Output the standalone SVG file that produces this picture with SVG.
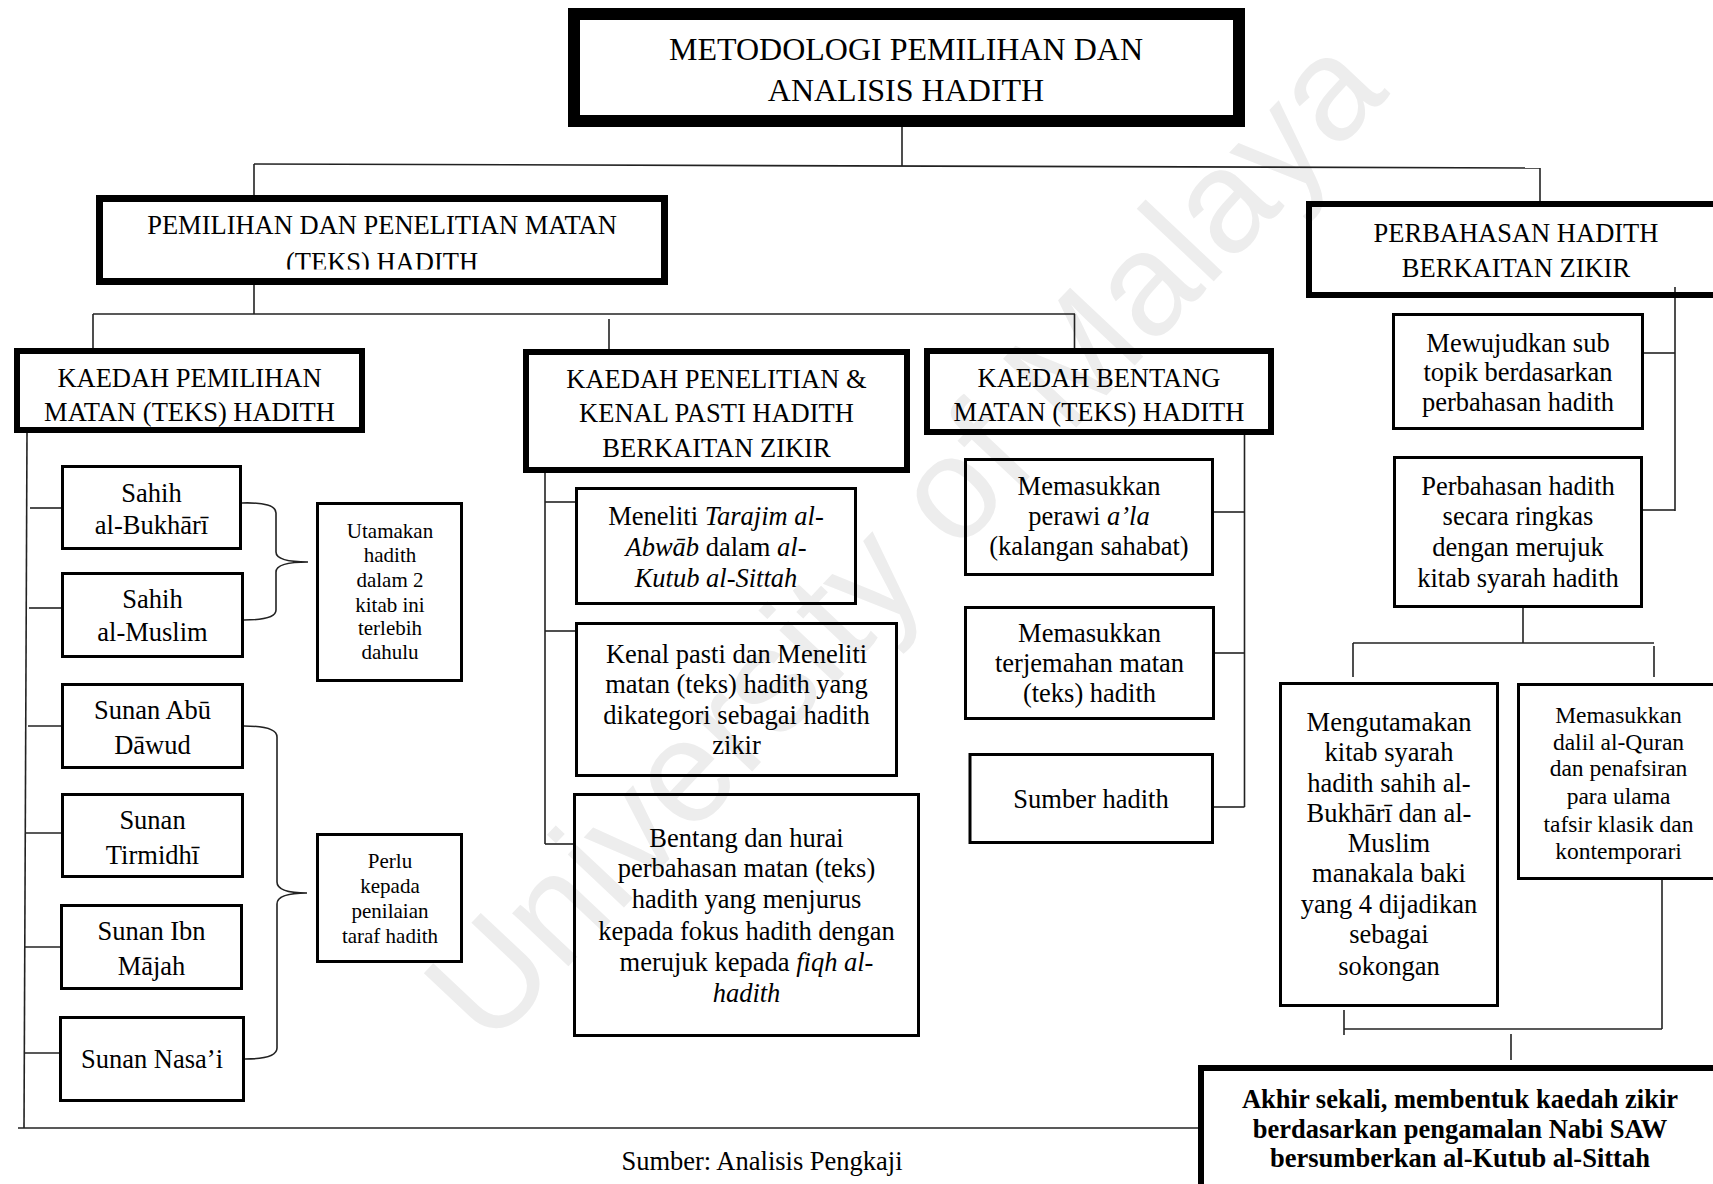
<svg xmlns="http://www.w3.org/2000/svg" width="1713" height="1184" viewBox="0 0 1713 1184">
  <defs>
    <style>
      .bg { fill: #ffffff; }
      .wm { font-family: "Liberation Sans", Arial, sans-serif; font-size: 146px; fill: #ededed; }
      .box { fill: none; stroke: #000; stroke-width: 3; }
      .hdr { fill: none; stroke: #000; stroke-width: 6; }
      .sec { fill: none; stroke: #000; stroke-width: 7; }
      .top { fill: none; stroke: #000; stroke-width: 12; }
      .ln { fill: none; stroke: #222; stroke-width: 1.6; }
      text { font-family: "Liberation Serif", "Times New Roman", serif; fill: #000; text-anchor: middle; }
      .t { font-size: 26.5px; }
      .tt { font-size: 32px; }
      .s { font-size: 21px; }
      .m { font-size: 23.5px; }
      .b { font-size: 26.5px; font-weight: bold; }
      .i { font-style: italic; }
    </style>
    <clipPath id="secClip">
      <rect x="100" y="200" width="565" height="69.5"/>
    </clipPath>
  </defs>

  <rect class="bg" x="0" y="0" width="1713" height="1184"/>

  <!-- faint diagonal watermark -->
  <text class="wm" x="940" y="572" transform="rotate(-46.7 940 572)">University of Malaya</text>

  <!-- connectors -->
  <g id="connectors">
    <!-- title to sections -->
    <path class="ln" d="M902,127 V166"/>
    <path class="ln" d="M254,164 L1540,168"/>
    <path class="ln" d="M254,164 V195"/>
    <path class="ln" d="M1540,168 V201"/>
    <!-- section to three methods -->
    <path class="ln" d="M254,285 V314"/>
    <path class="ln" d="M93,314 H1075"/>
    <path class="ln" d="M93,314 V348"/>
    <path class="ln" d="M1074.5,314 V348"/>
    <path class="ln" d="M609,319 V349"/>
    <!-- left spine and bottom rail -->
    <path class="ln" d="M27,433 L24,1128"/>
    <path class="ln" d="M18,1128 H1198"/>
    <path class="ln" d="M30,508 H61"/>
    <path class="ln" d="M29,608 H61"/>
    <path class="ln" d="M28,726 H61"/>
    <path class="ln" d="M26,833 H61"/>
    <path class="ln" d="M25,947 H60"/>
    <path class="ln" d="M24,1053 H59"/>
    <!-- braces -->
    <path class="ln" d="M242,503 Q276,502 276,513 V552 Q276,562 308,562 Q276,562 276,572 V610 Q276,620 244,620"/>
    <path class="ln" d="M244,726 Q277,726 277,737 V882 Q277,893 307,893 Q277,893 277,904 V1048 Q277,1059 245,1059"/>
    <!-- middle spine -->
    <path class="ln" d="M545,473 V844"/>
    <path class="ln" d="M545,502 H575"/>
    <path class="ln" d="M545,631 H575"/>
    <path class="ln" d="M545,844 H573"/>
    <!-- right spine of bentang -->
    <path class="ln" d="M1244.5,435 V807"/>
    <path class="ln" d="M1214,512 H1244.5"/>
    <path class="ln" d="M1215,653 H1244.5"/>
    <path class="ln" d="M1214,807 H1244.5"/>
    <!-- perbahasan column -->
    <path class="ln" d="M1675,287 V511"/>
    <path class="ln" d="M1643,353 H1675"/>
    <path class="ln" d="M1643,510 H1675"/>
    <path class="ln" d="M1523,608 V643"/>
    <path class="ln" d="M1353,643 H1654"/>
    <path class="ln" d="M1353,643 V677"/>
    <path class="ln" d="M1654,646 V677"/>
    <path class="ln" d="M1662,880 V1029"/>
    <path class="ln" d="M1344,1029 H1662"/>
    <path class="ln" d="M1344,1010 V1035"/>
    <path class="ln" d="M1511,1034 V1060"/>
  </g>

  <!-- title -->
  <g id="title">
    <rect class="top" x="574" y="14" width="665" height="107"/>
    <text class="tt" x="906" y="60">METODOLOGI PEMILIHAN DAN</text>
    <text class="tt" x="906" y="101">ANALISIS HADITH</text>
  </g>

  <g id="pemilihan-penelitian">
    <rect class="sec" x="99.5" y="198.5" width="565" height="83"/>
    <text class="t" x="382" y="234">PEMILIHAN DAN PENELITIAN MATAN</text>
    <text class="t" x="382" y="271" clip-path="url(#secClip)">(TEKS) HADITH</text>
  </g>

  <g id="perbahasan">
    <rect class="hdr" x="1309" y="204" width="420" height="91"/>
    <text class="t" x="1516" y="242">PERBAHASAN HADITH</text>
    <text class="t" x="1516" y="277">BERKAITAN ZIKIR</text>
  </g>

  <g id="kaedah-pemilihan">
    <rect class="hdr" x="17" y="351" width="345" height="79"/>
    <text class="t" x="189.5" y="387">KAEDAH PEMILIHAN</text>
    <text class="t" x="189.5" y="421">MATAN (TEKS) HADITH</text>
  </g>

  <g id="kaedah-penelitian">
    <rect class="hdr" x="526" y="352" width="381" height="118"/>
    <text class="t" x="716.5" y="388">KAEDAH PENELITIAN &amp;</text>
    <text class="t" x="716.5" y="422">KENAL PASTI HADITH</text>
    <text class="t" x="716.5" y="457">BERKAITAN ZIKIR</text>
  </g>

  <g id="kaedah-bentang">
    <rect class="hdr" x="927" y="351" width="344" height="81"/>
    <text class="t" x="1099" y="387">KAEDAH BENTANG</text>
    <text class="t" x="1099" y="421">MATAN (TEKS) HADITH</text>
  </g>

  <!-- the six books -->
  <g id="bukhari">
    <rect class="box" x="62.5" y="466.5" width="178" height="82"/>
    <text class="t" x="151.5" y="502">Sahih</text>
    <text class="t" x="151.5" y="534">al-Bukhārī</text>
  </g>
  <g id="muslim">
    <rect class="box" x="62.5" y="573.5" width="180" height="83"/>
    <text class="t" x="152.5" y="608">Sahih</text>
    <text class="t" x="152.5" y="641">al-Muslim</text>
  </g>
  <g id="abu-dawud">
    <rect class="box" x="62.5" y="684.5" width="180" height="83"/>
    <text class="t" x="152.5" y="719">Sunan Abū</text>
    <text class="t" x="152.5" y="754">Dāwud</text>
  </g>
  <g id="tirmidhi">
    <rect class="box" x="62.5" y="794.5" width="180" height="82"/>
    <text class="t" x="152.5" y="829">Sunan</text>
    <text class="t" x="152.5" y="864">Tirmidhī</text>
  </g>
  <g id="ibn-majah">
    <rect class="box" x="61.5" y="905.5" width="180" height="83"/>
    <text class="t" x="151.5" y="940">Sunan Ibn</text>
    <text class="t" x="151.5" y="975">Mājah</text>
  </g>
  <g id="nasai">
    <rect class="box" x="60.5" y="1017.5" width="183" height="83"/>
    <text class="t" x="152" y="1068">Sunan Nasa’i</text>
  </g>

  <g id="utamakan">
    <rect class="box" x="317.5" y="503.5" width="144" height="177"/>
    <text class="s" x="390" y="538">Utamakan</text>
    <text class="s" x="390" y="562">hadith</text>
    <text class="s" x="390" y="587">dalam 2</text>
    <text class="s" x="390" y="612">kitab ini</text>
    <text class="s" x="390" y="635">terlebih</text>
    <text class="s" x="390" y="659">dahulu</text>
  </g>
  <g id="perlu">
    <rect class="box" x="317.5" y="834.5" width="144" height="127"/>
    <text class="s" x="390" y="868">Perlu</text>
    <text class="s" x="390" y="893">kepada</text>
    <text class="s" x="390" y="918">penilaian</text>
    <text class="s" x="390" y="943">taraf hadith</text>
  </g>

  <!-- research steps -->
  <g id="meneliti">
    <rect class="box" x="576.5" y="488.5" width="279" height="115"/>
    <text class="t" x="716" y="525">Meneliti <tspan class="i">Tarajim al-</tspan></text>
    <text class="t" x="716" y="556"><tspan class="i">Abwāb</tspan> dalam <tspan class="i">al-</tspan></text>
    <text class="t i" x="716" y="587">Kutub al-Sittah</text>
  </g>
  <g id="kenal-pasti">
    <rect class="box" x="576.5" y="623.5" width="320" height="152"/>
    <text class="t" x="736.5" y="663">Kenal pasti dan Meneliti</text>
    <text class="t" x="736.5" y="693">matan (teks) hadith yang</text>
    <text class="t" x="736.5" y="724">dikategori sebagai hadith</text>
    <text class="t" x="736.5" y="754">zikir</text>
  </g>
  <g id="bentang-hurai">
    <rect class="box" x="574.5" y="794.5" width="344" height="241"/>
    <text class="t" x="746.5" y="847">Bentang dan hurai</text>
    <text class="t" x="746.5" y="877">perbahasan matan (teks)</text>
    <text class="t" x="746.5" y="908">hadith yang menjurus</text>
    <text class="t" x="746.5" y="940">kepada fokus hadith dengan</text>
    <text class="t" x="746.5" y="971">merujuk kepada <tspan class="i">fiqh al-</tspan></text>
    <text class="t i" x="746.5" y="1002">hadith</text>
  </g>

  <!-- text layout steps -->
  <g id="perawi">
    <rect class="box" x="965.5" y="459.5" width="247" height="115"/>
    <text class="t" x="1089" y="495">Memasukkan</text>
    <text class="t" x="1089" y="525">perawi <tspan class="i">a’la</tspan></text>
    <text class="t" x="1089" y="555">(kalangan sahabat)</text>
  </g>
  <g id="terjemahan">
    <rect class="box" x="965.5" y="607.5" width="248" height="111"/>
    <text class="t" x="1089.5" y="642">Memasukkan</text>
    <text class="t" x="1089.5" y="672">terjemahan matan</text>
    <text class="t" x="1089.5" y="702">(teks) hadith</text>
  </g>
  <g id="sumber">
    <rect class="box" x="970" y="754.5" width="242.5" height="88"/>
    <text class="t" x="1091" y="808">Sumber hadith</text>
  </g>

  <!-- discussion steps -->
  <g id="mewujudkan">
    <rect class="box" x="1393.5" y="314.5" width="249" height="114"/>
    <text class="t" x="1518" y="352">Mewujudkan sub</text>
    <text class="t" x="1518" y="381">topik berdasarkan</text>
    <text class="t" x="1518" y="411">perbahasan hadith</text>
  </g>
  <g id="ringkas">
    <rect class="box" x="1394.5" y="457.5" width="247" height="149"/>
    <text class="t" x="1518" y="495">Perbahasan hadith</text>
    <text class="t" x="1518" y="525">secara ringkas</text>
    <text class="t" x="1518" y="556">dengan merujuk</text>
    <text class="t" x="1518" y="587">kitab syarah hadith</text>
  </g>
  <g id="mengutamakan">
    <rect class="box" x="1280.5" y="683.5" width="217" height="322"/>
    <text class="t" x="1389" y="731">Mengutamakan</text>
    <text class="t" x="1389" y="761">kitab syarah</text>
    <text class="t" x="1389" y="792">hadith sahih al-</text>
    <text class="t" x="1389" y="822">Bukhārī dan al-</text>
    <text class="t" x="1389" y="852">Muslim</text>
    <text class="t" x="1389" y="882">manakala baki</text>
    <text class="t" x="1389" y="913">yang 4 dijadikan</text>
    <text class="t" x="1389" y="943">sebagai</text>
    <text class="t" x="1389" y="975">sokongan</text>
  </g>
  <g id="dalil">
    <rect class="box" x="1518.5" y="684.5" width="200" height="194"/>
    <text class="m" x="1618.5" y="723">Memasukkan</text>
    <text class="m" x="1618.5" y="749.5">dalil al-Quran</text>
    <text class="m" x="1618.5" y="776">dan penafsiran</text>
    <text class="m" x="1618.5" y="803.5">para ulama</text>
    <text class="m" x="1618.5" y="831.5">tafsir klasik dan</text>
    <text class="m" x="1618.5" y="859">kontemporari</text>
  </g>

  <g id="akhir">
    <rect class="hdr" x="1201" y="1068" width="530" height="200"/>
    <text class="b" x="1460" y="1108">Akhir sekali, membentuk kaedah zikir</text>
    <text class="b" x="1460" y="1138">berdasarkan pengamalan Nabi SAW</text>
    <text class="b" x="1460" y="1167">bersumberkan al-Kutub al-Sittah</text>
  </g>

  <text class="t" x="762" y="1170">Sumber: Analisis Pengkaji</text>
</svg>
